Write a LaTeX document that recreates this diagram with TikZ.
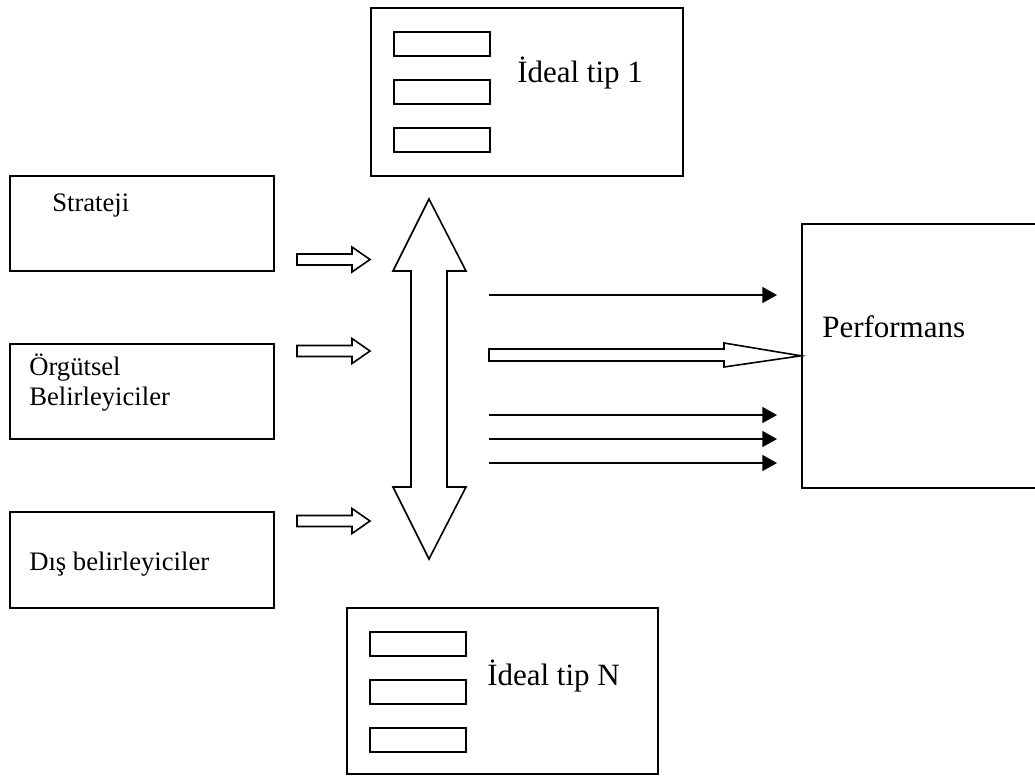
\documentclass[tikz,border=0pt]{standalone}
\usepackage{fontspec}
\setmainfont{Liberation Serif}
\usetikzlibrary{arrows.meta}

\tikzset{
  box/.style={draw, line width=1.2pt, anchor=north west, inner sep=0pt},
  slot/.style={box, minimum width=72pt, minimum height=18pt},
  lbl/.style={anchor=base west, inner sep=0pt, font=\fontsize{20}{24}\selectfont},
  biglbl/.style={anchor=base west, inner sep=0pt, font=\fontsize{23.25}{28}\selectfont},
  hollow/.style={draw, line width=1.2pt, line join=miter, fill=white},
  lead/.style={line width=1.2pt, -{Triangle[length=11pt,width=12pt]}},
}

\begin{document}
\begin{tikzpicture}[x=0.75pt,y=0.75pt,yscale=-1,xscale=1]
\useasboundingbox (0,0) rectangle (1035,775);
\clip (0,0) rectangle (1035,775);

%Shape: Rectangle - left column
\node (strat) [box, minimum width=198pt, minimum height=71.25pt] at (9,175) {};
\node (orgut) [box, minimum width=198pt, minimum height=71.25pt] at (9,343) {};
\node (dis) [box, minimum width=198pt, minimum height=72pt] at (9,511) {};

%Shape: Rectangle - ideal types
\node (tipone) [box, minimum width=234pt, minimum height=126pt] at (370,7) {};
\node (slotA) [slot] at (393,31) {};
\node (slotB) [slot] at (393,79) {};
\node (slotC) [slot] at (393,127) {};

\node (tipn) [box, minimum width=233.25pt, minimum height=124.5pt] at (346,607) {};
\node (slotD) [slot] at (369,631) {};
\node (slotE) [slot] at (369,679) {};
\node (slotF) [slot] at (369,727) {};

%Shape: Rectangle - runs off the right edge
\node (perf) [box, minimum width=225pt, minimum height=198pt] at (801,223) {};

%Shape: Right Arrow - inputs
\foreach \y in {259.5,351,521}
  \draw [hollow] (297,\y-5.5) -- (352,\y-5.5) -- (352,\y-12.5) -- (370,\y)
    -- (352,\y+12.5) -- (352,\y+5.5) -- (297,\y+5.5) -- cycle ;

%Shape: Up Down Arrow
\draw [hollow] (429,199) -- (466,271) -- (447,271) -- (447,487) -- (466,487)
  -- (429,559) -- (393,487) -- (411,487) -- (411,271) -- (393,271) -- cycle ;

%Shape: Right Arrow - into performans
\draw [hollow] (489,349) -- (724,349) -- (724,343) -- (perf.west) -- (724,367)
  -- (724,361) -- (489,361) -- cycle ;

%Straight Lines
\foreach \y [count=\i] in {295,415,439,463} {
  \coordinate (s\i) at (489,\y);
  \coordinate (e\i) at (777,\y);
  \draw [lead] (s\i) -- (e\i) ;
}

% Text Node
\node (stratlbl) [lbl] at (52,211) {Strateji};
% Text Node
\node (orgutlbl) [lbl] at (29,375) {Örgütsel};
% Text Node
\node (belirlbl) [lbl] at (29,405) {Belirleyiciler};
% Text Node
\node (dislbl) [lbl] at (29,570) {Dış belirleyiciler};
% Text Node
\node (onelbl) [biglbl] at (517,82) {İdeal tip 1};
% Text Node
\node (nlbl) [biglbl] at (487,685) {İdeal tip N};
% Text Node
\node (perflbl) [biglbl] at (822,337) {Performans};

\end{tikzpicture}
\end{document}
